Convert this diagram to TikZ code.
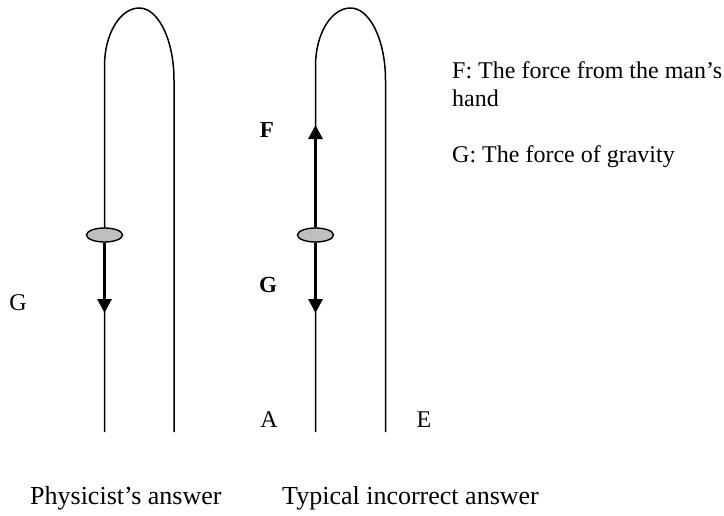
\documentclass[tikz,border=0pt]{standalone}
\usepackage{fontspec}
\setmainfont{Liberation Serif}
\usetikzlibrary{shapes.geometric,arrows.meta}
\begin{document}
\begin{tikzpicture}[x=1pt,y=-1pt,
  tube/.style={line width=1.5pt},
  bead/.style={draw, ellipse, fill=black!25, line width=1.4pt, minimum width=36pt, minimum height=14pt, inner sep=0pt},
  force/.style={line width=3pt, -{Triangle[length=14pt,width=14pt]}},
  txt/.style={font=\fontsize{24}{28}\selectfont, inner sep=0pt},
  captxt/.style={font=\fontsize{26}{30}\selectfont, inner sep=0pt},
  lbl/.style={font=\fontsize{23}{27}\selectfont\bfseries, inner sep=0pt}]
\useasboundingbox (0,0) rectangle (724,515);
% left tube
\draw[tube] (104.5,432) -- (104.5,66)
  arc[start angle=180, end angle=270, x radius=34.75, y radius=58]
  arc[start angle=270, end angle=360, x radius=34.75, y radius=72] -- (174,432);
% right tube
\draw[tube] (315.5,432) -- (315.5,66)
  arc[start angle=180, end angle=270, x radius=35, y radius=58]
  arc[start angle=270, end angle=360, x radius=35, y radius=72] -- (385.5,432);
% beads
\node[bead] (b1) at (104.5,235) {};
\node[bead] (b2) at (315.5,235) {};
\coordinate (g1) at (104.5,313);
\coordinate (g2) at (315.5,313);
\coordinate (f2) at (315.5,125);
\draw[force] (b1.south) -- (g1);
\draw[force] (b2.south) -- (g2);
\draw[force] (b2.north) -- (f2);
% labels
\node[txt] (lg) at (18,303) {G};
\node[lbl] (lf2) at (267,130) {F};
\node[lbl] (lg2) at (268,285) {G};
\node[txt] (la) at (269,420) {A};
\node[txt] (le) at (424,420) {E};
% legend
\node[txt, anchor=base west] (leg1) at (452,78) {F: The force from the man’s};
\node[txt, anchor=base west] (leg2) at (452,106) {hand};
\node[txt, anchor=base west] (leg3) at (452,162) {G: The force of gravity};
% captions
\node[captxt, anchor=base west] (c1) at (30,504) {Physicist’s answer};
\node[captxt, anchor=base west] (c2) at (282,504) {Typical incorrect answer};
\end{tikzpicture}
\end{document}
